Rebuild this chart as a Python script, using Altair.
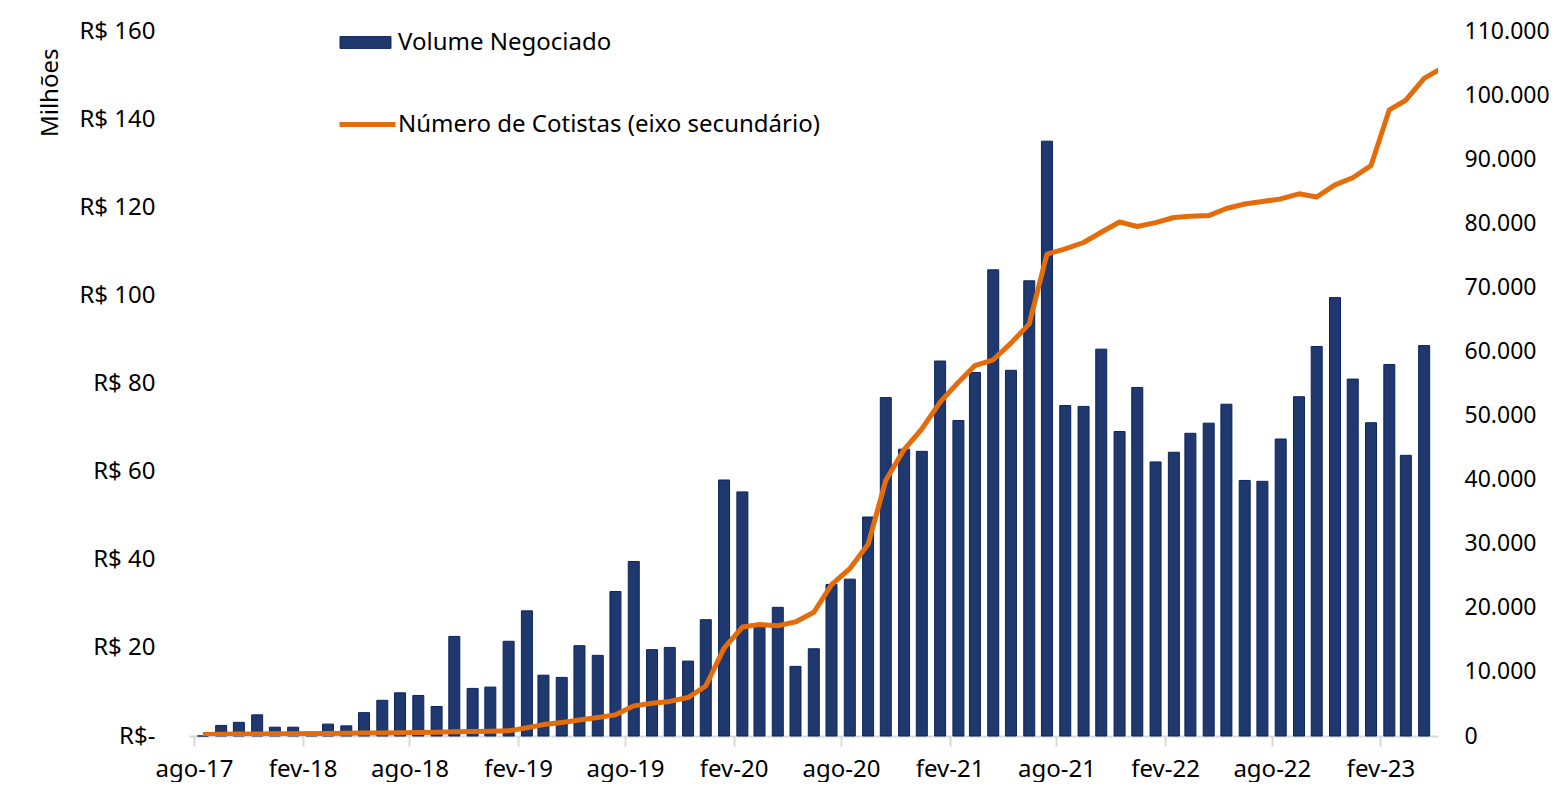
import altair as alt
import pandas as pd

# Months (band start) from ago-17 to mai-23
inicio = pd.date_range("2017-08-01", periods=70, freq="MS")
meses = [(d + pd.Timedelta(days=15)).strftime("%Y-%m-%d") for d in inicio]

# Volume negociado (R$ milhões), ago-17 .. abr-23
volume = [0.0, 2.4, 3.1, 4.8, 2.0, 2.0, 1.0, 2.7, 2.3, 5.3,
          8.1, 9.8, 9.2, 6.7, 22.6, 10.8, 11.1, 21.5, 28.4, 13.8,
          13.3, 20.5, 18.3, 32.8, 39.6, 19.6, 20.1, 17.0, 26.4, 58.1,
          55.4, 24.8, 29.2, 15.8, 19.8, 34.4, 35.6, 49.7, 76.8, 65.1,
          64.6, 85.1, 71.6, 82.5, 105.8, 83.0, 103.3, 135.0, 75.0, 74.8,
          87.8, 69.1, 79.1, 62.2, 64.4, 68.7, 71.0, 75.3, 58.0, 57.8,
          67.4, 77.0, 88.4, 99.5, 81.0, 71.1, 84.3, 63.7, 88.6]

# Número de cotistas, ago-17 .. mai-23
cotistas = [250, 280, 300, 320, 340, 360, 380, 400, 420, 450,
            480, 520, 560, 600, 650, 700, 750, 800, 1300, 1780,
            2120, 2500, 2890, 3300, 4700, 5100, 5400, 6000, 7800, 13700,
            17000, 17400, 17200, 17800, 19300, 23600, 26100, 29900, 39900, 44700,
            47900, 52100, 55200, 57800, 58700, 61300, 64300, 75200, 76000, 77000,
            78600, 80200, 79500, 80100, 80900, 81100, 81200, 82300, 83000, 83400,
            83800, 84600, 84100, 86000, 87100, 89000, 97700, 99200, 102600, 104200]

serie_bar = "Volume Negociado"
serie_line = "Número de Cotistas (eixo secundário)"

df_bar = pd.DataFrame({"mes": meses[:len(volume)], "volume": volume, "serie": serie_bar})
df_line = pd.DataFrame({"mes": meses, "cotistas": cotistas, "serie": serie_line})

FONT = "Noto Sans"
FS = 24
AZUL = "#1F386E"
AZUL_BORDA = "#0B2560"
LARANJA = "#E46C0A"

tick_vals = []
for y in range(2017, 2024):
    for m in (2, 8):
        if (y, m) >= (2017, 8) and (y, m) <= (2023, 2):
            tick_vals.append(alt.DateTime(year=y, month=m, date=1, utc=True))

x_enc = alt.X(
    "mes:T",
    scale=alt.Scale(type="utc",
                    domain=[alt.DateTime(year=2017, month=8, date=1, utc=True),
                            alt.DateTime(year=2023, month=5, date=1, utc=True)]),
    axis=alt.Axis(
        values=tick_vals,
        labelExpr="['jan','fev','mar','abr','mai','jun','jul','ago','set','out','nov','dez'][utcmonth(datum.value)] + '-' + utcFormat(datum.value, '%y')",
        title=None, grid=False,
        domainColor="#D9D9D9", domainWidth=2,
        tickColor="#D9D9D9", tickWidth=2, tickSize=10,
        labelFont=FONT, labelFontSize=FS, labelColor="#000000",
        labelPadding=11, labelAngle=0, labelFlush=False, labelOverlap=False,
    ),
)

bars = alt.Chart(df_bar).mark_bar(width=11, stroke=AZUL_BORDA, strokeWidth=1).encode(
    x=x_enc,
    y=alt.Y(
        "volume:Q",
        scale=alt.Scale(domain=[0, 160], nice=False),
        axis=alt.Axis(
            values=list(range(0, 161, 20)),
            labelExpr="datum.value == 0 ? 'R$-' : 'R$ ' + datum.value",
            title="Milhões", titleFont=FONT, titleFontSize=FS, titleFontWeight="normal",
            titleColor="#000000", titleAngle=-90, titleAlign="right", titleBaseline="middle",
            titleX=-139, titleY=17,
            grid=False, domain=False, ticks=False,
            labelFont=FONT, labelFontSize=FS, labelColor="#000000", labelPadding=34,
        ),
    ),
    fill=alt.Fill(
        "serie:N",
        scale=alt.Scale(domain=[serie_bar], range=[AZUL]),
        legend=alt.Legend(
            title=None, orient="none", legendX=148, legendY=-17, padding=0,
            symbolType="M-0.91,-0.21H0.91V0.21H-0.91Z", symbolSize=3136,
            symbolStrokeColor=AZUL_BORDA, symbolStrokeWidth=1, symbolOpacity=1,
            labelFont=FONT, labelFontSize=FS, labelColor="#000000", labelOffset=4,
            labelLimit=0,
        ),
    ),
)

line = alt.Chart(df_line).mark_line(strokeWidth=5, clip=True, strokeJoin="round").encode(
    x=x_enc,
    y=alt.Y(
        "cotistas:Q",
        scale=alt.Scale(domain=[0, 110000], nice=False),
        axis=alt.Axis(
            orient="right",
            values=list(range(0, 110001, 10000)),
            labelExpr="replace(format(datum.value, ','), ',', '.')",
            title=None, grid=False, domain=False, ticks=False,
            labelFont=FONT, labelFontSize=23, labelColor="#000000", labelPadding=26,
        ),
    ),
    stroke=alt.Stroke(
        "serie:N",
        scale=alt.Scale(domain=[serie_line], range=[LARANJA]),
        legend=alt.Legend(
            title=None, orient="none", legendX=148, legendY=63, padding=0,
            symbolType="stroke", symbolSize=3136, symbolStrokeWidth=5,
            labelFont=FONT, labelFontSize=FS, labelColor="#000000", labelOffset=0,
            labelLimit=0,
        ),
    ),
)

chart = (
    alt.layer(bars, line)
    .resolve_scale(y="independent", fill="independent", stroke="independent")
    .properties(
        width=1249, height=705, autosize="none",
        padding={"left": 181, "top": 23, "right": 112, "bottom": 46},
        background="white",
    )
    .configure_view(stroke=None)
)

chart.save("out.html", embed_options={"renderer": "svg", "actions": False})
